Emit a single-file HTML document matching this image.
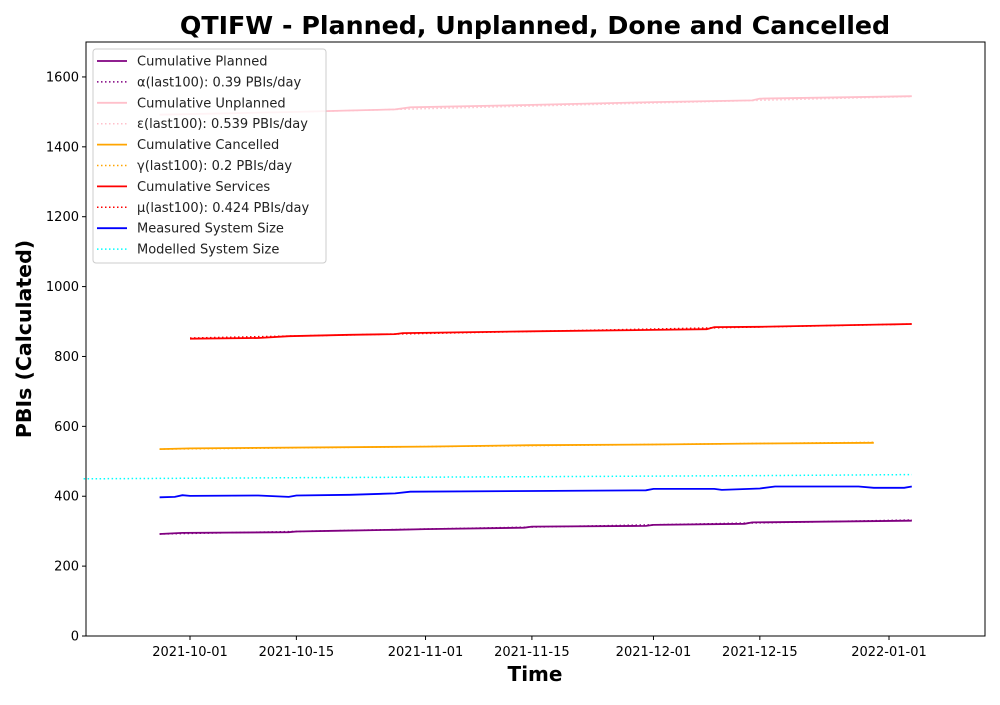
<!DOCTYPE html>
<html><head><meta charset="utf-8"><style>
body{margin:0;background:#fff;}
svg{font-family:"DejaVu Sans","Liberation Sans",sans-serif;}
</style></head><body>
<svg id="chart" width="1000" height="700" viewBox="0 0 1000 700">
<rect width="1000" height="700" fill="#fff"/>
<text x="535" y="34" text-anchor="middle" font-size="25.3" font-weight="bold">QTIFW - Planned, Unplanned, Done  and Cancelled</text>
<g id="plot"></g>
<text x="535" y="681" text-anchor="middle" font-size="20" font-weight="bold">Time</text>
<text transform="translate(31,339) rotate(-90)" text-anchor="middle" font-size="20.5" font-weight="bold">PBIs (Calculated)</text>
</svg>
<script>
const xTickLabels=["2021-10-01","2021-10-15","2021-11-01","2021-11-15","2021-12-01","2021-12-15","2022-01-01"];
const yTicks=[0,200,400,600,800,1000,1200,1400,1600];
const plannedDates=["2021-09-27","2021-09-30","2021-10-14","2021-10-15","2021-10-20","2021-10-28","2021-11-01","2021-11-14","2021-11-15","2021-11-30","2021-12-01","2021-12-13","2021-12-14","2022-01-04"];
const plannedVals=[292,295,297,299,301,304,306,310,313,315,318,321,325,330];
const unplannedDates=["2021-09-27","2021-10-15","2021-10-22","2021-10-28","2021-10-30","2021-11-15","2021-12-01","2021-12-14","2021-12-15","2022-01-04"];
const unplannedVals=[1492,1500,1504,1507,1513,1520,1528,1533,1538,1545];
const cancelledDates=["2021-09-27","2021-10-01","2021-11-01","2021-11-15","2021-12-01","2021-12-15","2021-12-30"];
const cancelledVals=[535,537,542,546,548,551,553];
const servicesDates=["2021-10-01","2021-10-10","2021-10-14","2021-10-22","2021-10-28","2021-10-29","2021-11-15","2021-12-01","2021-12-08","2021-12-09","2021-12-15","2022-01-04"];
const servicesVals=[851,853,858,862,864,867,872,876,878,884,885,893];
const measuredDates=["2021-09-27","2021-09-29","2021-09-30","2021-10-01","2021-10-10","2021-10-14","2021-10-15","2021-10-22","2021-10-28","2021-10-30","2021-11-15","2021-11-30","2021-12-01","2021-12-09","2021-12-10","2021-12-15","2021-12-17","2021-12-28","2021-12-30","2022-01-03","2022-01-04"];
const measuredVals=[397,398,403,401,402,398,402,404,408,413,415,417,421,421,418,422,428,428,424,424,428];
const modelledDates=["2021-09-17","2021-10-15","2021-11-15","2021-12-15","2022-01-04"];
const modelledVals=[450,453,456,459,462];
const plannedFitDates=["2021-09-27","2022-01-04"];const plannedFitVals=[292,332];
const unplannedFitDates=["2021-10-15","2022-01-04"];const unplannedFitVals=[1500,1544];
const cancelledFitDates=["2021-09-27","2021-12-30"];const cancelledFitVals=[535,554];
const servicesFitDates=["2021-10-01","2022-01-04"];const servicesFitVals=[853,893];

const NS="http://www.w3.org/2000/svg";
const L=86,R=985,T=42,B=636;
const d0=Date.parse("2021-10-01"),pxDay=(889-190)/92;
function xs(d){return 190+(Date.parse(d)-d0)/86400000*pxDay;}
function ys(v){return B-(v/1700)*(B-T);}
const g=document.getElementById('plot');
function mk(t,a,p){const e=document.createElementNS(NS,t);for(const k in a)e.setAttribute(k,a[k]);(p||g).appendChild(e);return e;}
function line(ds,vs,color,dash,name){
  const e=mk('polyline',{points:ds.map((d,i)=>xs(d).toFixed(1)+","+ys(vs[i]).toFixed(1)).join(" "),fill:"none",stroke:color,"stroke-width":dash?1.5:1.8});
  if(dash)e.setAttribute('stroke-dasharray','1.5,2.5');
  
  
}
line(modelledDates,modelledVals,"cyan",true,"modelled-system-size-line");
line(plannedDates,plannedVals,"purple",false,"cumulative-planned-line");
line(plannedFitDates,plannedFitVals,"purple",true,"planned-fit-line");
line(unplannedDates,unplannedVals,"pink",false,"cumulative-unplanned-line");
line(unplannedFitDates,unplannedFitVals,"pink",true,"unplanned-fit-line");
line(cancelledDates,cancelledVals,"orange",false,"cumulative-cancelled-line");
line(cancelledFitDates,cancelledFitVals,"orange",true,"cancelled-fit-line");
line(servicesDates,servicesVals,"red",false,"cumulative-services-line");
line(servicesFitDates,servicesFitVals,"red",true,"services-fit-line");
line(measuredDates,measuredVals,"blue",false,"measured-system-size-line");
const fr=mk('rect',{x:L,y:T,width:R-L,height:B-T,fill:"none",stroke:"#000","stroke-width":1});


yTicks.forEach(v=>{
  const y=ys(v);
  mk('line',{x1:L-4,x2:L,y1:y,y2:y,stroke:"#000"});
  const t=mk('text',{x:L-7,y:y+4.5,"text-anchor":"end","font-size":13});t.textContent=v;
  
  
});
xTickLabels.forEach(d=>{
  const x=xs(d);
  mk('line',{x1:x,x2:x,y1:B,y2:B+4,stroke:"#000"});
  const t=mk('text',{x:x,y:B+20,"text-anchor":"middle","font-size":13});t.textContent=d;
  
  
});
const lg=mk('g',{});


mk('rect',{x:93,y:49,width:233,height:214,rx:3,fill:"#fff","fill-opacity":0.8,stroke:"#ccc"},lg);
const legendLabels=["Cumulative Planned","α(last100): 0.39 PBIs/day","Cumulative Unplanned","ε(last100): 0.539 PBIs/day","Cumulative Cancelled","γ(last100): 0.2 PBIs/day","Cumulative Services","μ(last100): 0.424 PBIs/day","Measured System Size","Modelled System Size"];
const legendColors=["purple","purple","pink","pink","orange","orange","red","red","blue","cyan"];
legendLabels.forEach((s,i)=>{
  const y=61+i*20.9;
  const dotted=(i%2==1)||i==9;
  const ln=mk('line',{x1:97,x2:127,y1:y,y2:y,stroke:legendColors[i],"stroke-width":dotted?1.5:1.8},lg);
  if(dotted)ln.setAttribute('stroke-dasharray','1.5,2.5');
  const t=mk('text',{x:137,y:y+4.5,"font-size":13,fill:"#222"},lg);t.textContent=s;
  
  
});
</script>
</body></html>
